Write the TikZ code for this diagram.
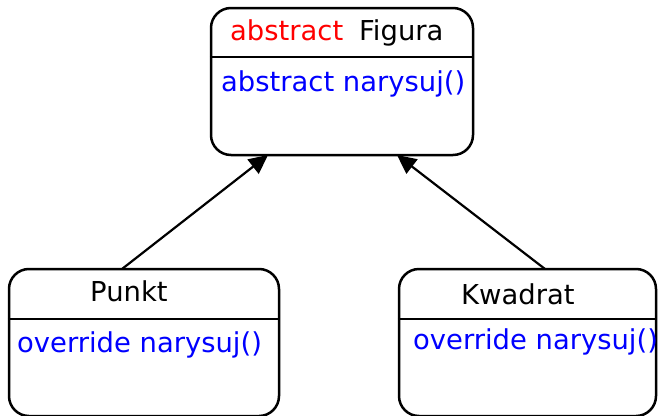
\documentclass[tikz,border=0pt]{standalone}
\usepackage{fontspec}
\setmainfont{DejaVu Sans}
\usetikzlibrary{arrows.meta}
\tikzset{
  classbox/.style={draw=black, line width=2.5pt, rounded corners=20pt, minimum width=#1, minimum height=147pt, inner sep=0pt},
  txt/.style={anchor=base west, inner sep=0pt, font=\fontsize{27.4}{32}\selectfont},
  divider/.style={line width=2.5pt},
  inherit/.style={line width=2.2pt, -{Triangle[length=19pt,width=18pt]}},
}
\begin{document}
\begin{tikzpicture}[x=1pt,y=-1pt]
\useasboundingbox (0,0) rectangle (658,415);
\begin{scope}
\clip (0,0) rectangle (658,415);
\node[classbox=262pt] (fig) at (342,81.5) {};
\node[classbox=270pt] (pk) at (144,342.5) {};
\node[classbox=257pt] (kw) at (527.5,342.5) {};
\end{scope}
\draw[divider] (fig.west |- 0,57) -- (fig.east |- 0,57);
\draw[divider] (pk.west |- 0,319) -- (pk.east |- 0,319);
\draw[divider] (kw.west |- 0,319) -- (kw.east |- 0,319);
\node[txt, text=red] (figabs) at (230,40) {abstract};
\node[txt] (figname) at (359,40) {Figura};
\node[txt, text=blue] (figm) at (221,91) {abstract narysuj()};
\node[txt] (pkname) at (90,301) {Punkt};
\node[txt, text=blue] (pkm) at (17,352) {override narysuj()};
\node[txt] (kwname) at (461,304) {Kwadrat};
\node[txt, text=blue] (kwm) at (413,349) {override narysuj()};
\coordinate (s1) at (122,269);
\coordinate (t1) at (268,155);
\coordinate (s2) at (545,269);
\coordinate (t2) at (397,155);
\draw[inherit] (s1) -- (t1);
\draw[inherit] (s2) -- (t2);
\end{tikzpicture}
\end{document}
